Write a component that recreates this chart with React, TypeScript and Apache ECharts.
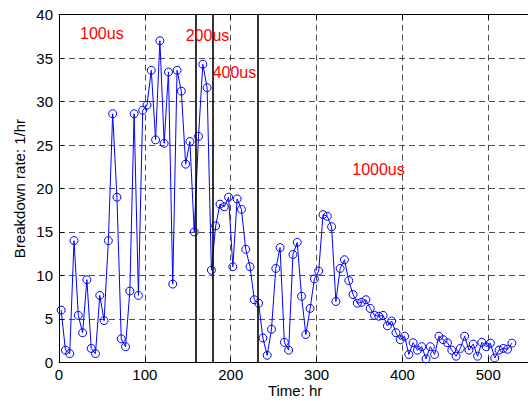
import React, { useEffect, useRef } from "react";
import * as echarts from "echarts";

const times = [
  2.5, 7.5, 12.5, 17.5, 22.5, 27.5, 32.5, 37.5, 42.5, 47.5,
  52.5, 57.5, 62.5, 67.5, 72.5, 77.5, 82.5, 87.5, 92.5, 97.5,
  102.5, 107.5, 112.5, 117.5, 122.5, 127.5, 132.5, 137.5, 142.5, 147.5,
  152.5, 157.5, 162.5, 167.5, 172.5, 177.5, 182.5, 187.5, 192.5, 197.5,
  202.5, 207.5, 212.5, 217.5, 222.5, 227.5, 232.5, 237.5, 242.5, 247.5,
  252.5, 257.5, 262.5, 267.5, 272.5, 277.5, 282.5, 287.5, 292.5, 297.5,
  302.5, 307.5, 312.5, 317.5, 322.5, 327.5, 332.5, 337.5, 342.5, 347.5,
  352.5, 357.5, 362.5, 367.5, 372.5, 377.5, 382.5, 387.5, 392.5, 397.5,
  402.5, 407.5, 412.5, 417.5, 422.5, 427.5, 432.5, 437.5, 442.5, 447.5,
  452.5, 457.5, 462.5, 467.5, 472.5, 477.5, 482.5, 487.5, 492.5, 497.5,
  502.5, 507.5, 512.5, 517.5, 522.5, 527.5,
];

const rates = [
  6.0, 1.4, 1.0, 14.0, 5.4, 3.4, 9.5, 1.6, 1.0, 7.7,
  4.8, 14.0, 28.6, 19.0, 2.7, 1.8, 8.2, 28.6, 7.7, 29.0,
  29.6, 33.6, 25.6, 37.0, 25.2, 33.4, 9.0, 33.6, 31.2, 22.8,
  25.4, 15.0, 26.0, 34.3, 31.6, 10.6, 15.7, 18.2, 17.9, 19.0,
  11.0, 18.8, 17.6, 13.0, 11.0, 7.2, 6.8, 2.8, 0.8, 3.8,
  10.8, 13.2, 2.3, 1.4, 12.4, 13.8, 7.6, 3.2, 6.2, 9.6,
  10.5, 17.0, 16.8, 15.6, 7.0, 10.8, 11.8, 9.4, 7.8, 6.8,
  6.9, 7.2, 6.2, 5.4, 5.3, 5.4, 4.2, 4.75, 3.4, 2.6,
  3.0, 0.9, 2.25, 1.4, 1.8, 0.4, 1.8, 0.9, 3.0, 2.6,
  2.25, 1.4, 0.7, 1.6, 3.0, 1.4, 2.1, 0.7, 2.3, 1.8,
  2.2, 0.5, 1.4, 1.6, 1.5, 2.2,
];

const cutoverTimes = [159, 178.5, 231];

const pulseLabels = ["100us", "200us", "400us", "1000us"];
const pulseLabelX = [24.5, 147.6, 179, 341.6];
const pulseLabelY = [37.86, 37.66, 33.33, 22.13];

const xMin = 0;
const xMax = 550;
const xInterval = 100;
const yMin = 0;
const yMax = 40;
const yInterval = 5;

const FONT = "'Liberation Sans', Arial, Helvetica, sans-serif";

export default function App() {
  const ref = useRef<HTMLDivElement>(null);

  useEffect(() => {
    if (!ref.current) return;
    const chart = echarts.init(ref.current, undefined, { renderer: "svg" });

    const dashed = { color: "#222", width: 0.8, type: [6, 4] as any };

    chart.setOption({
      animation: false,
      backgroundColor: "#fff",
      textStyle: { fontFamily: FONT },
      grid: {
        left: 59,
        top: 14.7,
        right: -3.2,
        bottom: 38.7,
        containLabel: false,
        outerBoundsMode: "none",
      },
      xAxis: [
        {
          type: "value",
          min: xMin,
          max: xMax,
          interval: xInterval,
          name: "Time: hr",
          nameLocation: "middle",
          nameGap: 21,
          nameMoveOverlap: false,
          nameTextStyle: { color: "#000", fontSize: 15, lineHeight: 15, fontFamily: FONT },
          axisLine: { show: true, onZero: false, lineStyle: { color: "#000", width: 1 } },
          axisTick: { show: true, inside: true, length: 5, lineStyle: { color: "#000" } },
          axisLabel: { color: "#000", fontSize: 15, margin: 5, fontFamily: FONT, showMaxLabel: false },
          splitLine: { show: true, lineStyle: dashed },
        },
        {
          type: "value",
          position: "top",
          min: xMin,
          max: xMax,
          interval: xInterval,
          axisLine: { show: true, onZero: false, lineStyle: { color: "#000", width: 1 } },
          axisTick: { show: true, inside: true, length: 5, lineStyle: { color: "#000" } },
          axisLabel: { show: false },
          splitLine: { show: false },
        },
      ],
      yAxis: [
        {
          type: "value",
          min: yMin,
          max: yMax,
          interval: yInterval,
          name: "Breakdown rate: 1/hr",
          nameLocation: "middle",
          nameGap: 32,
          nameMoveOverlap: false,
          nameTextStyle: { color: "#000", fontSize: 15, fontFamily: FONT },
          axisLine: { show: true, onZero: false, lineStyle: { color: "#000", width: 1 } },
          axisTick: { show: true, inside: true, length: 5, lineStyle: { color: "#000" } },
          axisLabel: { color: "#000", fontSize: 15, margin: 6, fontFamily: FONT },
          splitLine: { show: true, lineStyle: dashed },
        },
      ],
      series: [
        {
          type: "line",
          data: times.map((t, i) => [t, rates[i]]),
          symbol: "circle",
          symbolSize: 8,
          showAllSymbol: true,
          lineStyle: { color: "#0000ff", width: 1 },
          itemStyle: { color: "rgba(0,0,0,0)", borderColor: "#0000ff", borderWidth: 1 },
          z: 3,
          markLine: {
            silent: true,
            symbol: "none",
            label: { show: false },
            lineStyle: { color: "#000", type: "solid", width: 1.6 },
            data: cutoverTimes.map((t) => ({ xAxis: t })),
          },
        },
      ],
    });

    const graphics = pulseLabels.map((txt, i) => {
      const p = chart.convertToPixel({ xAxisIndex: 0, yAxisIndex: 0 }, [pulseLabelX[i], pulseLabelY[i]]) as number[];
      return {
        type: "text",
        x: p[0],
        y: p[1],
        z: 10,
        style: {
          text: txt,
          fill: "#ff0000",
          fontSize: 16,
          fontFamily: FONT,
          textAlign: "left",
          textVerticalAlign: "middle",
        },
      };
    });
    chart.setOption({ graphic: graphics });

    return () => chart.dispose();
  }, []);

  return (
    <div
      ref={ref}
      style={{ position: "fixed", left: 0, top: 0, width: 528, height: 401, overflow: "hidden" }}
    />
  );
}
